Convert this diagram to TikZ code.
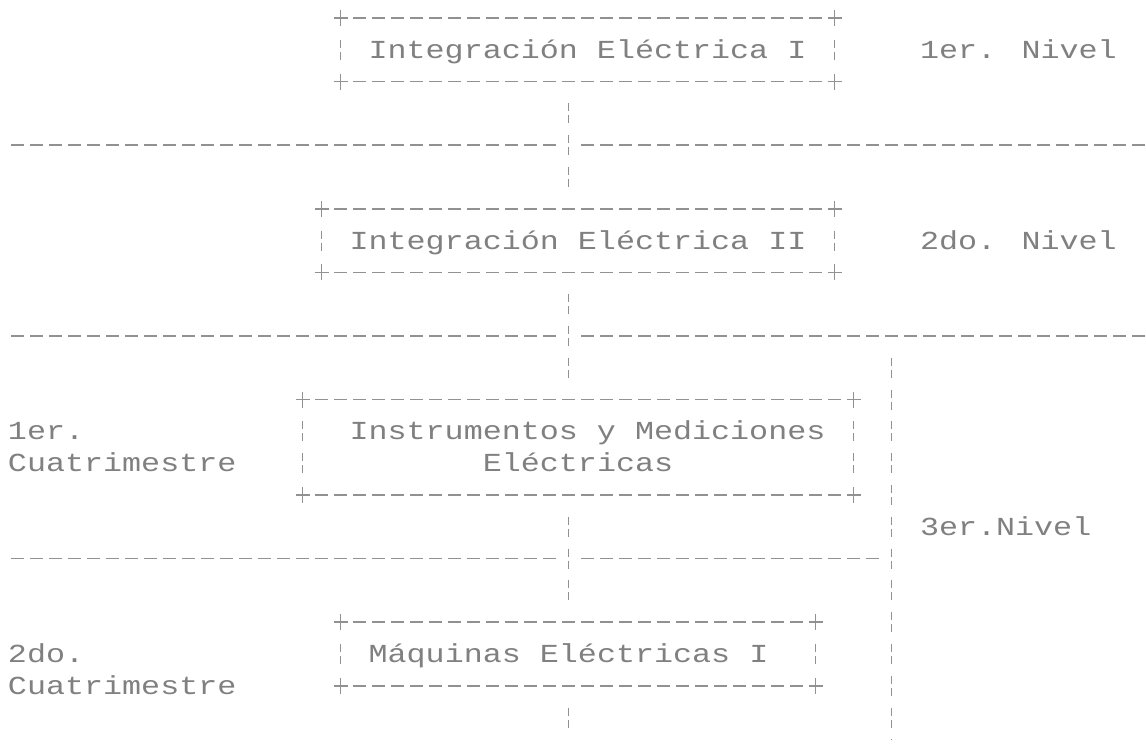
\documentclass[tikz,border=0pt]{standalone}
\usepackage{fontspec}
\newfontfamily\dotfont[FakeStretch=1.22]{Liberation Mono}
\definecolor{ink}{RGB}{128,128,128}
\definecolor{rulegray}{RGB}{145,145,145}
\tikzset{
  txt/.style={font=\dotfont\fontsize{26}{30}\selectfont, text=ink, inner sep=0pt, outer sep=0pt, anchor=base},
  lbl/.style={txt, anchor=base west},
  hdash/.style={draw=rulegray, line width=1.5pt, dash pattern=on 13pt off 6pt},
  vdash/.style={draw=rulegray, line width=1.5pt, dash pattern=on 8pt off 4pt on 8pt off 11.8pt},
  plusmark/.style={draw=rulegray, line width=1.5pt},
  boxarea/.style={rectangle, inner sep=0pt, outer sep=0pt, draw=none},
}
\newcommand\asciiBox[5]{%
  \node[boxarea, minimum width=#4pt, minimum height=#5pt] (#1) at (#2,#3) {};
  \draw[hdash] ([xshift=12.5pt]#1.north west) -- ([xshift=-12.5pt]#1.north east);
  \draw[hdash] ([xshift=12.5pt]#1.south west) -- ([xshift=-12.5pt]#1.south east);
  \draw[vdash] ([yshift=-21.8pt]#1.north west) -- ([yshift=21.8pt]#1.south west);
  \draw[vdash] ([yshift=-21.8pt]#1.north east) -- ([yshift=21.8pt]#1.south east);
  \foreach \a in {north west,north east,south west,south east}{
    \draw[plusmark] ([yshift=8pt]#1.\a) -- ([yshift=-8pt]#1.\a)
                    ([xshift=-7pt]#1.\a) -- ([xshift=7pt]#1.\a);
  }%
}
\begin{document}
\begin{tikzpicture}[x=1pt,y=-1pt]
  \fill[white] (0,0) rectangle (1146,751);
  \useasboundingbox (0,0) rectangle (1146,751);

  % boxes
  \asciiBox{b1}{587.5}{49.8}{494}{63.6}
  \asciiBox{b2}{578}{240.6}{513}{63.6}
  \asciiBox{b3}{578}{447.3}{551}{95.4}
  \asciiBox{b4}{578}{654}{475}{63.6}

  % box texts
  \node[txt] (t1) at (587.5,58.3) {Integración Eléctrica I};
  \node[txt] (t2) at (578,249.1) {Integración Eléctrica II};
  \node[txt] (t3a) at (587.5,439.9) {Instrumentos y Mediciones};
  \node[txt] (t3b) at (578,471.7) {Eléctricas};
  \node[txt] (t4) at (568.5,662.5) {Máquinas Eléctricas I};

  % side labels
  \node[lbl] (n1) at (920,58.3) {1er. Nivel};
  \node[lbl] (n2) at (920,249.1) {2do. Nivel};
  \node[lbl] (n3) at (920,535.3) {3er.Nivel};
  \node[lbl] (c1a) at (8,439.9) {1er.};
  \node[lbl] (c1b) at (8,471.7) {Cuatrimestre};
  \node[lbl] (c2a) at (8,662.5) {2do.};
  \node[lbl] (c2b) at (8,694.3) {Cuatrimestre};

  % level separators
  \coordinate (l1a) at (11,145.2);  \coordinate (l1b) at (556,145.2);
  \coordinate (l1c) at (581,145.2); \coordinate (l1d) at (1146,145.2);
  \coordinate (l2a) at (11,336);    \coordinate (l2b) at (556,336);
  \coordinate (l2c) at (581,336);   \coordinate (l2d) at (1146,336);
  \coordinate (l3a) at (11,558.6);  \coordinate (l3b) at (556,558.6);
  \coordinate (l3c) at (581,558.6); \coordinate (l3d) at (879,558.6);
  \draw[hdash] (l1a) -- (l1b) (l1c) -- (l1d);
  \draw[hdash] (l2a) -- (l2b) (l2c) -- (l2d);
  \draw[hdash] (l3a) -- (l3b) (l3c) -- (l3d);

  % spine connectors
  \coordinate (spine) at (568.5,0);
  \coordinate (spineend) at (568.5,735);
  \draw[vdash, shorten <=21.8pt, shorten >=21.8pt] (b1.south -| spine) -- (b2.north -| spine);
  \draw[vdash, shorten <=21.8pt, shorten >=21.8pt] (b2.south -| spine) -- (b3.north -| spine);
  \draw[vdash, shorten <=21.8pt, shorten >=21.8pt] (b3.south -| spine) -- (b4.north -| spine);
  \draw[vdash, shorten <=21.8pt] (b4.south -| spine) -- (spineend);

  % third level bracket line
  \coordinate (n3top) at (891.5,357.8);
  \coordinate (n3bot) at (891.5,740);
  \draw[vdash] (n3top) -- (n3bot);
\end{tikzpicture}
\end{document}
